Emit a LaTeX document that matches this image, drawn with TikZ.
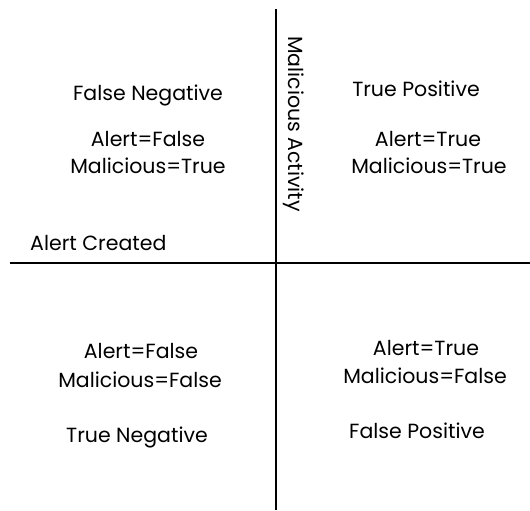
\documentclass[tikz,border=0pt]{standalone}
\usepackage{fontspec}
\setmainfont{Poppins}
\begin{document}
\begin{tikzpicture}[x=1pt,y=-1pt,
  lbl/.style={font=\fontsize{20.5}{24}\selectfont, inner sep=0pt, anchor=base},
  axis/.style={line width=2pt, black}]
\useasboundingbox (0,0) rectangle (530,511);
\coordinate (vt) at (276,9);
\coordinate (vb) at (276,510);
\coordinate (hl) at (10,263);
\coordinate (hr) at (530,263);
\draw[axis] (vt) -- (vb);
\draw[axis] (hl) -- (hr);
\node[lbl] (fn) at (148,100) {False Negative};
\node[lbl] (fn1) at (148,146) {Alert=False};
\node[lbl] (fn2) at (148,173) {Malicious=True};
\node[lbl, anchor=base west] (ac) at (30,250) {Alert Created};
\node[lbl, anchor=center, rotate=-90] (ma) at (294,124) {Malicious Activity};
\node[lbl] (tp) at (416,96) {True Positive};
\node[lbl] (tp1) at (428,146) {Alert=True};
\node[lbl] (tp2) at (429,173) {Malicious=True};
\node[lbl] (tn1) at (141,358) {Alert=False};
\node[lbl] (tn2) at (140,387) {Malicious=False};
\node[lbl] (tn) at (137,442) {True Negative};
\node[lbl] (fp1) at (426,355) {Alert=True};
\node[lbl] (fp2) at (425,383) {Malicious=False};
\node[lbl] (fp) at (417,438) {False Positive};
\end{tikzpicture}
\end{document}
